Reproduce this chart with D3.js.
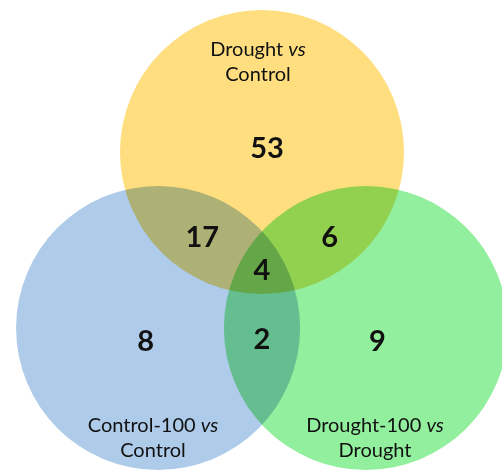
<!DOCTYPE html>
<html>
<head>
<meta charset="utf-8">
<script src="https://cdn.jsdelivr.net/npm/d3@7"></script>
<style>
  html, body { margin: 0; padding: 0; background: #fff; }
  svg { display: block; }
  .set { mix-blend-mode: multiply; }
  text { font-family: Lato, "Open Sans", sans-serif; fill: #111; }
</style>
</head>
<body>
<script>
// sets (top, bottom-left, bottom-right)
var setNames = [["Drought ", "vs", "Control"],
                ["Control-100 ", "vs", "Control"],
                ["Drought-100 ", "vs", "Drought"]]
var setColors = ["#ffde80", "#aecbe9", "#92ef9d"]

// region counts: only A, only B, only C, A&B, A&C, B&C, A&B&C
var regionKeys = ["A", "B", "C", "AB", "AC", "BC", "ABC"]
var regionCounts = [53, 8, 9, 17, 6, 2, 4]

var width = 502,
    height = 472

var svg = d3.select("body").append("svg")
    .attr("width", width)
    .attr("height", height)

// layout: three equal circles on an equilateral triangle
var cx = 262, cy = 270, spread = 120, radius = 142
var angles = [-90, 150, 30]
var circles = angles.map(function (a, i) {
    var t = a * Math.PI / 180
    return { i: i, x: cx + spread * Math.cos(t), y: cy + spread * Math.sin(t) + (i == 0 ? 2 : -2) }
})

svg.append("g")
    .selectAll("circle")
    .data(circles)
    .enter()
    .append("circle")
    .attr("class", "set")
    .attr("cx", function (d) { return d.x })
    .attr("cy", function (d) { return d.y })
    .attr("r", radius)
    .style("fill", function (d) { return setColors[d.i] })

// label position: mean of member circle centres, pushed outward from the middle
var push = { A: [1.04, 1.04], B: [1.12, 1.2], C: [1.11, 1.2], AB: [1.15, 1.15], AC: [1.3, 1.15], BC: [1, 1.18], ABC: [1, 1] }
function regionPos(key) {
    var members = key.split("").map(function (k) { return "ABC".indexOf(k) })
    var mx = d3.mean(members, function (m) { return circles[m].x })
    var my = d3.mean(members, function (m) { return circles[m].y })
    return [cx + (mx - cx) * push[key][0], cy + (my - cy) * push[key][1]]
}

svg.append("g")
    .selectAll("text")
    .data(regionKeys)
    .enter()
    .append("text")
    .attr("text-anchor", "middle")
    .attr("x", function (d) { return regionPos(d)[0] + (d == "A" ? 5 : 0) })
    .attr("y", function (d) { return regionPos(d)[1] + 11 })
    .style("font-size", "29px")
    .style("font-weight", "bold")
    .text(function (d, i) { return regionCounts[i] })

// set titles
var titlePos = [[258, 56], [153, 432], [375, 432]]
setNames.forEach(function (n, i) {
    var t = svg.append("text")
        .attr("text-anchor", "middle")
        .attr("x", titlePos[i][0])
        .attr("y", titlePos[i][1])
        .style("font-size", "20px")
    t.append("tspan").text(n[0])
    t.append("tspan").style("font-style", "italic").text(n[1])
    svg.append("text")
        .attr("text-anchor", "middle")
        .attr("x", titlePos[i][0])
        .attr("y", titlePos[i][1] + 25)
        .style("font-size", "20px")
        .text(n[2])
})
</script>
</body>
</html>
